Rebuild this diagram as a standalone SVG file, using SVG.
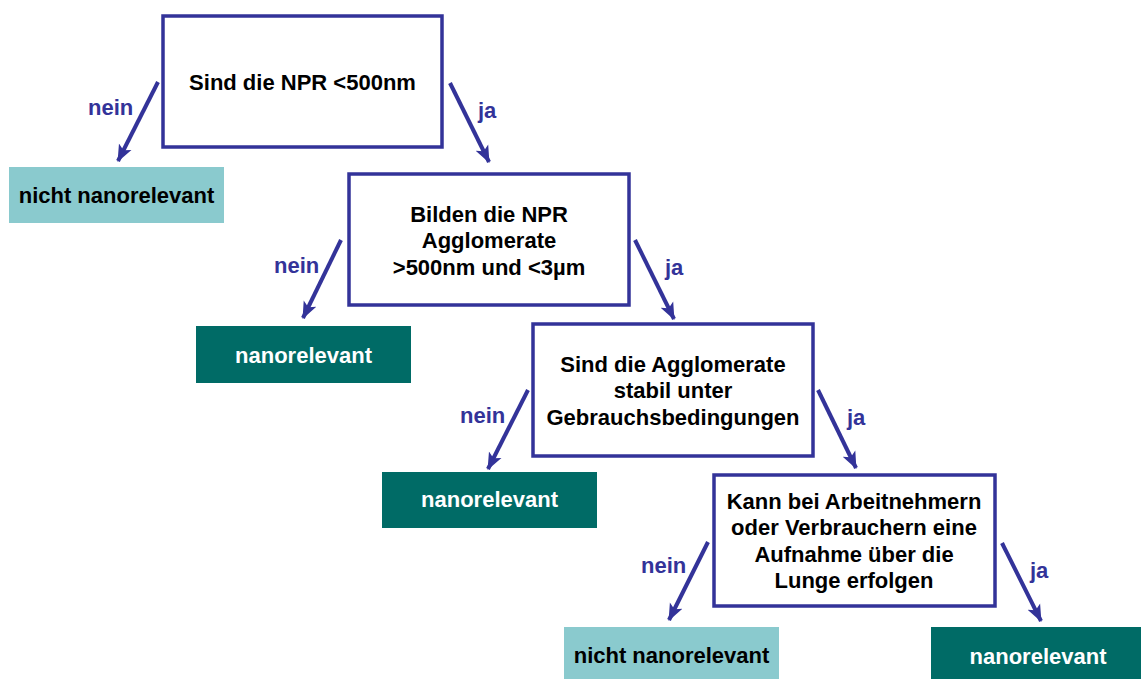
<svg xmlns="http://www.w3.org/2000/svg" width="1141" height="679" viewBox="0 0 1141 679">
<style>
.q{fill:#ffffff;stroke:#333399;stroke-width:3.5}
.lt{fill:#8ACACE}
.dk{fill:#006B66}
.t{font-family:"Liberation Sans",Arial,sans-serif;font-weight:bold;font-size:22px;text-anchor:middle}
.bk{fill:#000000}
.wh{fill:#ffffff}
.lb{font-family:"Liberation Sans",Arial,sans-serif;font-weight:bold;font-size:22px;fill:#333399}
.c{stroke:#333399;stroke-width:4;fill:none;marker-end:url(#ah)}
</style>
<defs>
<marker id="ah" markerUnits="userSpaceOnUse" markerWidth="18" markerHeight="18" viewBox="0 0 18 18" refX="16" refY="9" orient="auto">
<path d="M0,2 L17,9 L0,16 L4,9 Z" fill="#333399"/>
</marker>
</defs>
<rect width="1141" height="679" fill="#ffffff"/>
<g id="connectors">
<line class="c" x1="158" y1="82" x2="118" y2="161"/>
<line class="c" x1="450" y1="83" x2="489" y2="162"/>
<line class="c" x1="341" y1="240" x2="303" y2="318"/>
<line class="c" x1="635" y1="240" x2="674" y2="319"/>
<line class="c" x1="528" y1="390" x2="488" y2="469"/>
<line class="c" x1="818" y1="390" x2="856" y2="468"/>
<line class="c" x1="708" y1="542" x2="669" y2="620"/>
<line class="c" x1="1002" y1="543" x2="1041" y2="621"/>
<text class="lb" x="88" y="115">nein</text>
<text class="lb" x="478" y="118">ja</text>
<text class="lb" x="274" y="273">nein</text>
<text class="lb" x="665" y="275">ja</text>
<text class="lb" x="460" y="423">nein</text>
<text class="lb" x="847" y="425">ja</text>
<text class="lb" x="641" y="573">nein</text>
<text class="lb" x="1030" y="578">ja</text>
</g>
<g id="q1">
<rect class="q" x="163" y="16" width="279" height="131"/>
<text class="t bk" x="302.5" y="90">Sind die NPR &lt;500nm</text>
</g>
<g id="q2">
<rect class="q" x="349" y="174" width="280" height="131"/>
<text class="t bk" x="489" y="222">Bilden die NPR</text>
<text class="t bk" x="489" y="248">Agglomerate</text>
<text class="t bk" x="489" y="275">&gt;500nm und &lt;3µm</text>
</g>
<g id="q3">
<rect class="q" x="533" y="324" width="280" height="132"/>
<text class="t bk" x="673" y="372">Sind die Agglomerate</text>
<text class="t bk" x="673" y="398">stabil unter</text>
<text class="t bk" x="673" y="425">Gebrauchsbedingungen</text>
</g>
<g id="q4">
<rect class="q" x="714" y="475" width="281" height="131"/>
<text class="t bk" x="854" y="509">Kann bei Arbeitnehmern</text>
<text class="t bk" x="854" y="535">oder Verbrauchern eine</text>
<text class="t bk" x="854" y="562">Aufnahme über die</text>
<text class="t bk" x="854" y="588">Lunge erfolgen</text>
</g>
<g id="r1">
<rect class="lt" x="9" y="167" width="215" height="56"/>
<text class="t bk" x="116.5" y="203">nicht nanorelevant</text>
</g>
<g id="r2">
<rect class="dk" x="196" y="326" width="215" height="57"/>
<text class="t wh" x="303.5" y="363">nanorelevant</text>
</g>
<g id="r3">
<rect class="dk" x="382" y="472" width="215" height="56"/>
<text class="t wh" x="489.5" y="507">nanorelevant</text>
</g>
<g id="r4">
<rect class="lt" x="564" y="627" width="215" height="52"/>
<text class="t bk" x="671.5" y="663">nicht nanorelevant</text>
</g>
<g id="r5">
<rect class="dk" x="931" y="627" width="215" height="52"/>
<text class="t wh" x="1038" y="664">nanorelevant</text>
</g>
</svg>
